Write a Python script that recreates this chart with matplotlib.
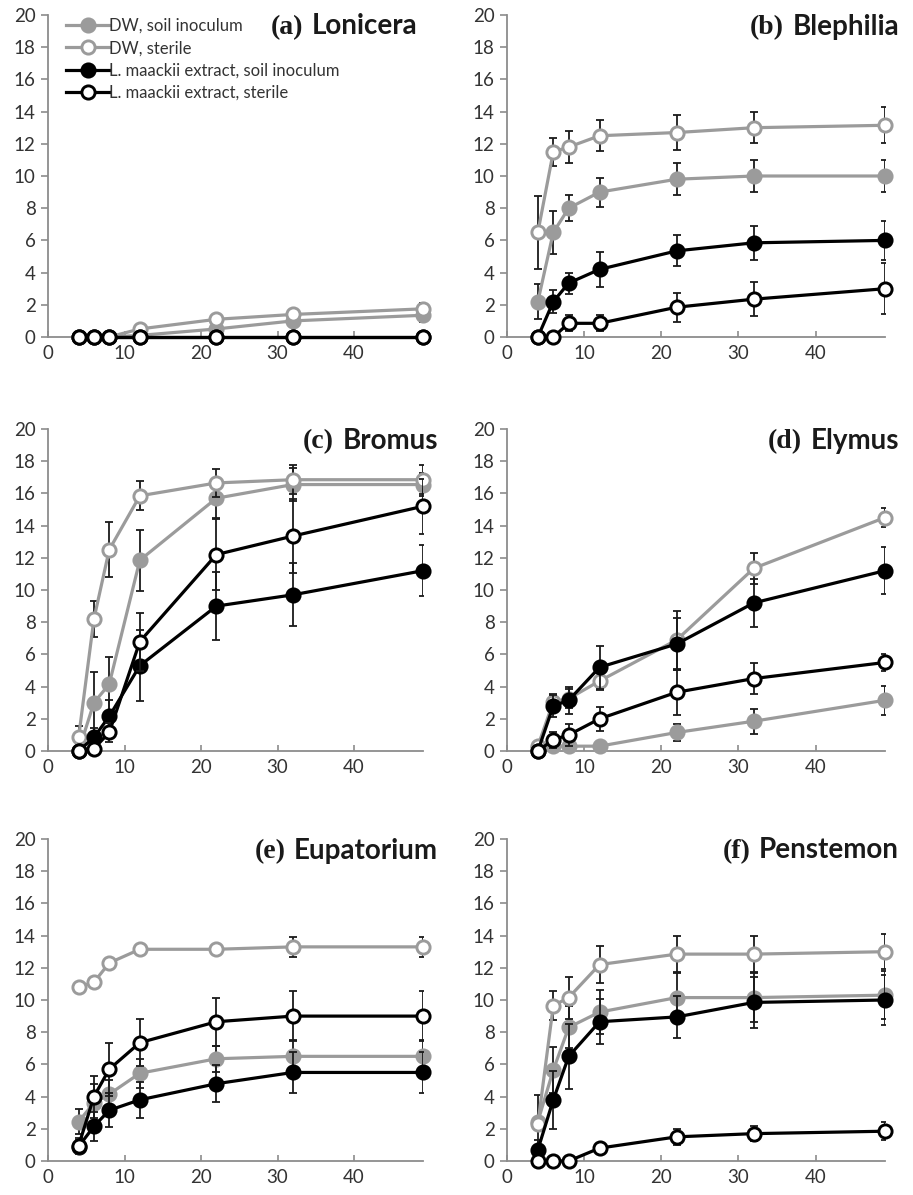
import matplotlib
matplotlib.use("Agg")
import matplotlib.pyplot as plt
from matplotlib.offsetbox import TextArea, HPacker, AnchoredOffsetbox

# CONFIG
GREY = "#9b9b9b"
BLACK = "#000000"
AXIS_COL = "#8c8c8c"
TICK_COL = "#333333"
SANS = ["Lato", "DejaVu Sans"]
SERIF = ["Liberation Serif", "DejaVu Serif"]

# DATA (days after sowing)
days = [4, 6, 8, 12, 22, 32, 49]
series_labels = ["DW, soil inoculum", "DW, sterile",
                 "L. maackii extract, soil inoculum", "L. maackii extract, sterile"]

# rows: DW soil, DW sterile, extract soil, extract sterile
lonicera_mean = [[0, 0, 0, 0.1, 0.5, 1.0, 1.35],
                 [0, 0, 0, 0.5, 1.1, 1.4, 1.75],
                 [0, 0, 0, 0, 0, 0, 0],
                 [0, 0, 0, 0, 0, 0, 0]]
lonicera_err = [[0, 0, 0, 0.1, 0.2, 0.3, 0.4],
                [0, 0, 0, 0.1, 0.2, 0.3, 0.35],
                [0, 0, 0, 0, 0, 0, 0],
                [0, 0, 0, 0, 0, 0, 0]]

blephilia_mean = [[2.2, 6.5, 8.0, 9.0, 9.8, 10.0, 10.0],
                  [6.5, 11.5, 11.8, 12.5, 12.7, 13.0, 13.15],
                  [0, 2.2, 3.35, 4.2, 5.35, 5.85, 6.0],
                  [0, 0, 0.85, 0.85, 1.85, 2.35, 3.0]]
blephilia_err = [[1.1, 1.35, 0.8, 0.9, 1.0, 1.0, 1.0],
                 [2.25, 0.85, 1.0, 0.95, 1.1, 0.97, 1.12],
                 [0, 0.7, 0.65, 1.1, 0.97, 1.07, 1.2],
                 [0, 0, 0.5, 0.5, 0.9, 1.05, 1.6]]

bromus_mean = [[0, 3.0, 4.15, 11.85, 15.7, 16.55, 16.55],
               [0.85, 8.2, 12.5, 15.85, 16.65, 16.85, 16.85],
               [0, 0.85, 2.15, 5.3, 9.0, 9.7, 11.2],
               [0, 0.15, 1.15, 6.8, 12.2, 13.35, 15.2]]
bromus_err = [[0, 1.9, 1.7, 1.9, 1.2, 1.0, 0.7],
              [0.7, 1.1, 1.7, 0.9, 0.85, 0.9, 0.9],
              [0, 0.6, 1.0, 2.2, 2.1, 1.95, 1.6],
              [0, 0.2, 0.6, 1.8, 2.2, 2.3, 1.7]]

elymus_mean = [[0.2, 0.3, 0.3, 0.3, 1.15, 1.85, 3.15],
               [0.3, 3.05, 3.25, 4.35, 6.9, 11.35, 14.5],
               [0, 2.8, 3.15, 5.2, 6.65, 9.2, 11.2],
               [0, 0.7, 1.0, 2.0, 3.65, 4.5, 5.5]]
elymus_err = [[0, 0, 0, 0, 0.55, 0.78, 0.9],
              [0, 0.5, 0.6, 0.55, 1.8, 0.97, 0.6],
              [0, 0.7, 0.85, 1.35, 1.6, 1.5, 1.45],
              [0, 0.5, 0.7, 0.75, 1.4, 0.97, 0.5]]

eupatorium_mean = [[2.45, 3.6, 4.15, 5.45, 6.35, 6.5, 6.5],
                   [10.8, 11.1, 12.3, 13.15, 13.15, 13.3, 13.3],
                   [0.9, 2.15, 3.15, 3.8, 4.8, 5.5, 5.5],
                   [0.95, 4.0, 5.7, 7.35, 8.65, 9.0, 9.0]]
eupatorium_err = [[0.8, 1.2, 0.9, 0.9, 0.8, 1.0, 1.0],
                  [0, 0, 0, 0, 0, 0.6, 0.6],
                  [0.4, 0.9, 1.05, 1.1, 1.15, 1.3, 1.3],
                  [0.5, 1.3, 1.65, 1.45, 1.5, 1.55, 1.55]]

penstemon_mean = [[2.45, 5.65, 8.3, 9.25, 10.15, 10.15, 10.3],
                  [2.3, 9.65, 10.15, 12.2, 12.85, 12.85, 13.0],
                  [0.7, 3.8, 6.5, 8.65, 8.95, 9.85, 10.0],
                  [0, 0, 0, 0.8, 1.5, 1.7, 1.85]]
penstemon_err = [[1.65, 1.4, 1.3, 1.35, 1.55, 1.5, 1.5],
                 [0, 0.9, 1.3, 1.15, 1.1, 1.1, 1.1],
                 [0.6, 1.8, 2.0, 1.4, 1.3, 1.6, 1.55],
                 [0, 0, 0, 0.3, 0.5, 0.45, 0.55]]

panels = [
    ("(a)", "Lonicera", lonicera_mean, lonicera_err),
    ("(b)", "Blephilia", blephilia_mean, blephilia_err),
    ("(c)", "Bromus", bromus_mean, bromus_err),
    ("(d)", "Elymus", elymus_mean, elymus_err),
    ("(e)", "Eupatorium", eupatorium_mean, eupatorium_err),
    ("(f)", "Penstemon", penstemon_mean, penstemon_err),
]

line_cols = [GREY, GREY, BLACK, BLACK]
face_cols = [GREY, "white", BLACK, "white"]

W, H = 913, 1195
col_left = [48 / W, 507 / W]
col_width = [375 / W, 378 / W]
row_bottom = [1 - 337 / H, 1 - 751 / H, 1 - 1161 / H]
row_height = 322 / H
title_right = [[417 / W, 899 / W], [438 / W, 899 / W], [438 / W, 899 / W]]

fig = plt.figure(figsize=(W / 100, H / 100), dpi=100)

for k, (tag, name, means, errs) in enumerate(panels):
    r, c = divmod(k, 2)
    ax = fig.add_axes([col_left[c], row_bottom[r], col_width[c], row_height])

    for i in range(4):
        ax.errorbar(days, means[i], yerr=errs[i], fmt="none", ecolor="#1a1a1a",
                    elinewidth=1.3, capsize=3, capthick=1.3, zorder=2 + i * 2)
        ax.plot(days, means[i], color=line_cols[i], lw=2.3, marker="o",
                markersize=9.5, markerfacecolor=face_cols[i],
                markeredgecolor=line_cols[i], markeredgewidth=2.1,
                label=series_labels[i], zorder=3 + i * 2, clip_on=False)

    ax.set_xlim(0, 49)
    ax.set_ylim(0, 20)
    ax.set_xticks([0, 10, 20, 30, 40])
    ax.set_yticks(range(0, 21, 2))
    ax.spines[["top", "right"]].set_visible(False)
    for sp in ["left", "bottom"]:
        ax.spines[sp].set_color(AXIS_COL)
        ax.spines[sp].set_linewidth(1.3)
    ax.tick_params(axis="y", direction="out", length=5, width=1.2,
                   color=AXIS_COL, labelcolor=TICK_COL, labelsize=13.5, pad=4)
    ax.tick_params(axis="x", direction="in", length=4, width=1.2,
                   color=AXIS_COL, labelcolor=TICK_COL, labelsize=13.5, pad=6)
    for lab in ax.get_xticklabels() + ax.get_yticklabels():
        lab.set_family(SANS)

    # panel title: serif letter + bold sans genus name
    t1 = TextArea(tag, textprops=dict(family=SERIF, fontweight="bold",
                                      fontsize=20, color="#1a1a1a"))
    t2 = TextArea(name, textprops=dict(family=SANS, fontweight="bold",
                                       fontsize=20, color="#1a1a1a"))
    box = HPacker(children=[t1, t2], align="baseline", pad=0, sep=6)
    y_title = row_bottom[r] + row_height - 12 / H
    anchored = AnchoredOffsetbox(loc="center right", child=box, pad=0,
                                 borderpad=0, frameon=False,
                                 bbox_to_anchor=(title_right[r][c], y_title),
                                 bbox_transform=fig.transFigure)
    fig.add_artist(anchored)

    if k == 0:
        leg = ax.legend(loc="upper left", bbox_to_anchor=(0.03, 1.012),
                        frameon=False, handlelength=2.6,
                        handletextpad=0.0, labelspacing=0.38, borderaxespad=0,
                        prop=dict(family=SANS, size=12))
        for txt in leg.get_texts():
            txt.set_color(TICK_COL)

fig.savefig("out.png", dpi=100)
